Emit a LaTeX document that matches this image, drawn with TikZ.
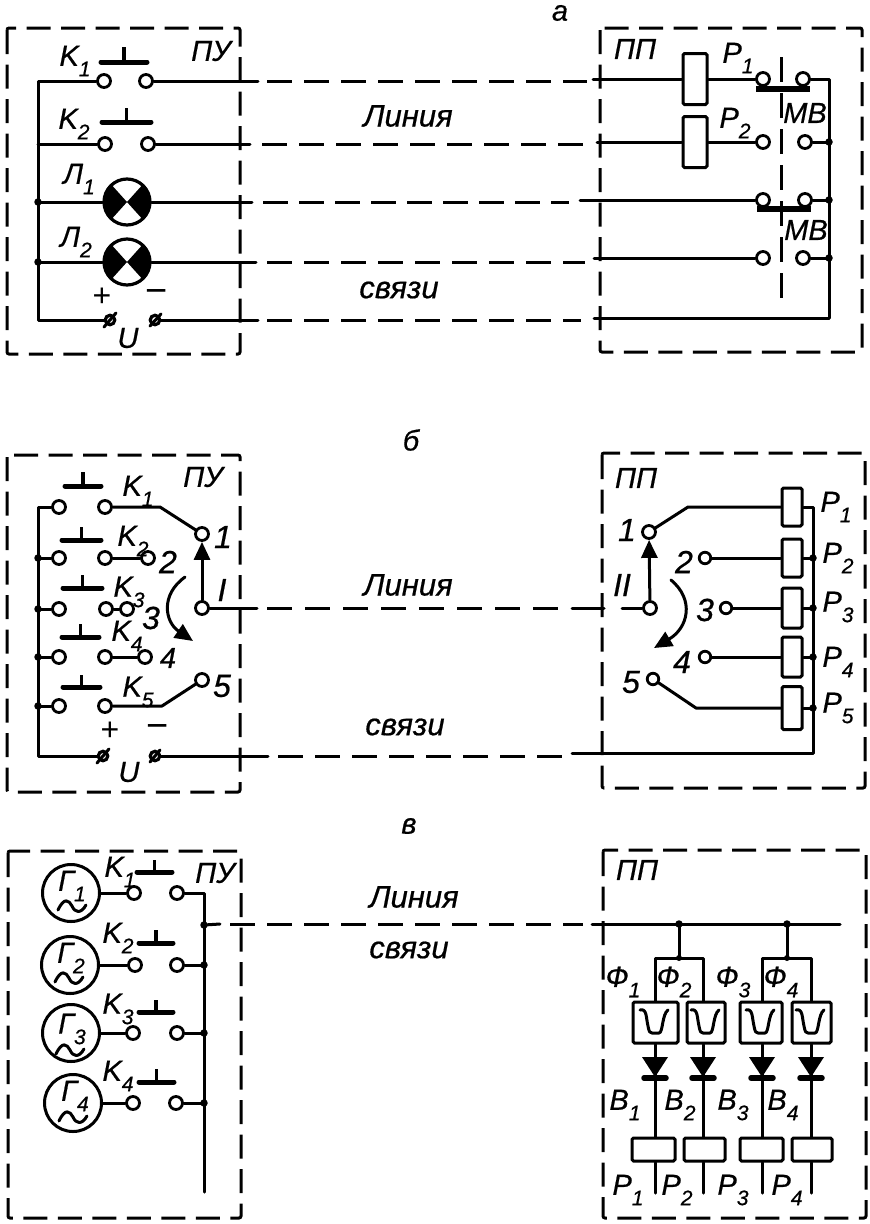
\documentclass[tikz,border=0pt]{standalone}
\usepackage{fontspec}
\setmainfont{Liberation Sans}[ItalicFeatures={FakeBold=0.6}]
\usetikzlibrary{arrows.meta,calc}
\newcommand\subt[1]{\raisebox{-.36em}{\fontsize{21}{21}\selectfont #1}}
\tikzset{
 wire/.style={line width=3pt,line cap=round,line join=round},
 dline/.style={wire,line cap=butt,dash pattern=on 25pt off 12pt},
 frame/.style={line width=3pt,dash pattern=on 24pt off 10.5pt,rounded corners=2pt},
 cont/.style={circle,draw,fill=white,line width=2.8pt,minimum size=13pt,inner sep=0pt},
 term/.style={circle,draw,line width=3.2pt,minimum size=9.5pt,inner sep=0pt},
 lampn/.style={circle,draw,fill=white,line width=3.2pt,minimum size=46pt,inner sep=0pt},
 gen/.style={circle,draw,line width=3pt,minimum size=57pt,inner sep=0pt},
 relay/.style={rectangle,draw,fill=white,line width=3pt,rounded corners=1.5pt,inner sep=0pt},
 lbl/.style={inner sep=0pt,font=\fontsize{29}{29}\selectfont\itshape},
 num/.style={inner sep=0pt,font=\fontsize{32}{32}\selectfont\itshape},
 word/.style={inner sep=0pt,font=\fontsize{31}{31}\selectfont\itshape},
 sgnp/.style={inner sep=0pt,font=\fontsize{32}{32}\selectfont},
 sgnm/.style={inner sep=0pt,font=\fontsize{38}{38}\selectfont},
 dotn/.style={circle,fill,minimum size=7.5pt,inner sep=0pt},
 head/.style={-{Triangle[length=18pt,width=16pt]}},
}
\newcommand\btn[4]{\draw[line width=5pt,line cap=round] (#1,#3)--(#2,#3);\draw[line width=3.8pt] ({(#1+#2)/2},#3)--({(#1+#2)/2},#4);}
\newcommand\ufilt[2]{\draw[wire] (#1-15,#2-12) .. controls (#1-8,#2-14) and (#1-9,#2-4) .. (#1-7,#2+4) .. controls (#1-6,#2+10) and (#1-5,#2+11) .. (#1-3,#2+11) -- (#1+4,#2+11) .. controls (#1+8,#2+11) and (#1+7,#2-8) .. (#1+13,#2-12);}
\newcommand\diode[1]{\fill (#1-13,1057)--(#1+13,1057)--(#1,1077)--cycle;\draw[line width=5.5pt,line cap=round] (#1-11,1078)--(#1+11,1078);}
\newcommand\gtil[2]{\draw[wire] (#1-14,#2+4) .. controls (#1-8,#2-9) and (#1-3,#2-6) .. (#1,#2) .. controls (#1+3,#2+7) and (#1+9,#2+8) .. (#1+14,#2-1);}
\newcommand\lampw[1]{\fill (#1.center) -- ++(48:23) arc[start angle=48,end angle=-48,radius=23] -- cycle;\fill (#1.center) -- ++(132:23) arc[start angle=132,end angle=228,radius=23] -- cycle;}
\begin{document}
\begin{tikzpicture}[x=1pt,y=-1pt]
\useasboundingbox (0,0) rectangle (870,1224);
% ---------- frames
\draw[frame] (7,28) rectangle (240,354);
\draw[frame] (600,28) rectangle (862,352);
\draw[frame] (7,455) rectangle (240,792);
\draw[frame] (602,453) rectangle (865,788);
\draw[frame] (8,851) rectangle (241,1218);
\draw[frame] (603,850) rectangle (866,1218);
% ---------- titles and line labels
\node[lbl] (ta) at (560,13) {а};
\node[lbl] (tb) at (411,440) {б};
\node[lbl] (tc) at (409,826) {в};
\node[word] (w1) at (408,116) {Линия};
\node[word] (w2) at (399,290) {связи};
\node[word] (w3) at (408,585) {Линия};
\node[word] (w4) at (405,727) {связи};
\node[word] (w5) at (414,897) {Линия};
\node[word] (w6) at (409,950) {связи};
% ========== part a, control side
\coordinate (ab1) at (38,81); \coordinate (ab2) at (38,144); \coordinate (ab3) at (38,202);
\coordinate (ab4) at (38,262); \coordinate (ab5) at (38,320);
\node[cont] (ak1l) at (104,81) {};
\node[cont] (ak1r) at (146,81) {};
\node[cont] (ak2l) at (105,144) {};
\node[cont] (ak2r) at (148,144) {};
\node[lampn] (al1) at (127,202) {};
\node[lampn] (al2) at (127,262) {};
\lampw{al1} \lampw{al2}
\node[term] (aup) at (110,320) {};
\node[term] (aum) at (155,320) {};
\draw[wire] (104,327)--(116,313); \draw[wire] (150,326)--(161,314);
\btn{101}{147}{62}{47} \btn{102}{151}{122}{108}
\draw[wire] (ak1l) -- (ab1) -- (ab5) -- (aup);
\draw[wire] (ak2l) -- (ab2);
\draw[wire] (ab3) -- (al1);
\draw[wire] (ab4) -- (al2);
\node[dotn] (ad3) at (ab3) {}; \node[dotn] (ad4) at (ab4) {};
\node[lbl] (lk1) at (75,61) {K\subt{1}};
\node[lbl] (lk2) at (74,124) {K\subt{2}};
\node[lbl] (ll1) at (79,179) {Л\subt{1}};
\node[lbl] (ll2) at (76,242) {Л\subt{2}};
\node[lbl] (lpu1) at (211,51) {ПУ};
\node[lbl] (lu1) at (128,338) {U};
\node[sgnp] (lp1) at (102,297) {+};
\node[sgnm] (lm1) at (157,296) {−};
% part a, receiving side
\node[lbl] (lpp1) at (635,49) {ПП};
\node[relay,minimum width=24pt,minimum height=51pt] (ar1) at (695,79) {};
\node[relay,minimum width=24pt,minimum height=51pt] (ar2) at (695,142) {};
\node[cont] (am1l) at (763,79) {};
\node[cont] (am1r) at (803,79) {};
\node[cont] (am2l) at (763,142) {};
\node[cont] (am2r) at (805,142) {};
\node[cont] (am3l) at (763,200) {};
\node[cont] (am3r) at (805,200) {};
\node[cont] (am4l) at (763,258) {};
\node[cont] (am4r) at (803,258) {};
\coordinate (mvt) at (781,57); \coordinate (mvb) at (781,305);
\draw[line width=3pt,dash pattern=on 25pt off 11pt] (mvt) -- (mvb);
\draw[line width=5.5pt] (756,89)--(810,89);
\draw[line width=5.5pt] (757,209)--(811,209);
\coordinate (abr1) at (829,79); \coordinate (abr2) at (829,142); \coordinate (abr3) at (829,200);
\coordinate (abr4) at (829,258); \coordinate (abr5) at (829,318);
\draw[wire] (am1r) -- (abr1) -- (abr5);
\draw[wire] (am2r) -- (abr2); \draw[wire] (am3r) -- (abr3); \draw[wire] (am4r) -- (abr4);
\node[dotn] (adr2) at (abr2) {}; \node[dotn] (adr3) at (abr3) {}; \node[dotn] (adr4) at (abr4) {};
\draw[wire] (ar1) -- (am1l); \draw[wire] (ar2) -- (am2l);
\node[lbl] (lr1) at (738,58) {P\subt{1}};
\node[lbl] (lr2) at (735,123) {P\subt{2}};
\node[lbl] (lmb1) at (805,113) {МВ};
\node[lbl] (lmb2) at (806,230) {МВ};
% part a, line
\coordinate (a1s) at (258,81); \coordinate (a1a) at (267,81); \coordinate (a2a) at (587,81); \coordinate (a3a) at (593,79);
\coordinate (a1r) at (250,144); \coordinate (a1b) at (262,144); \coordinate (a2b) at (585,144); \coordinate (a3b) at (597,142);
\coordinate (a1t) at (252,202); \coordinate (a1c) at (263,202); \coordinate (a2c) at (569,202); \coordinate (a3c) at (580,200);
\coordinate (a1u) at (256,262); \coordinate (a1d) at (267,262); \coordinate (a2d) at (585,262); \coordinate (a3d) at (594,258);
\coordinate (a1v) at (258,320); \coordinate (a1e) at (267,320); \coordinate (a2e) at (581,320); \coordinate (a3e) at (594,318);
\draw[wire] (ak1r) -- (a1s); \draw[dline] (a1a) -- (a2a); \draw[wire] (a3a) -- (ar1);
\draw[wire] (ak2r) -- (a1r); \draw[dline] (a1b) -- (a2b); \draw[wire] (a3b) -- (ar2);
\draw[wire] (al1) -- (a1t); \draw[dline,dash pattern=on 25pt off 11pt] (a1c) -- (a2c); \draw[wire] (a3c) -- (am3l);
\draw[wire] (al2) -- (a1u); \draw[dline] (a1d) -- (a2d); \draw[wire] (a3d) -- (am4l);
\draw[wire] (aum) -- (a1v); \draw[dline] (a1e) -- (a2e); \draw[wire] (a3e) -- (abr5);
% ========== part b, control side
\coordinate (bb1) at (38,507); \coordinate (bb2) at (38,558); \coordinate (bb3) at (38,609);
\coordinate (bb4) at (38,657); \coordinate (bb5) at (38,706); \coordinate (bb6) at (38,756);
\node[cont] (bk1l) at (59,507) {};
\node[cont] (bk1r) at (105,507) {};
\node[cont] (bk2l) at (59,558) {};
\node[cont] (bk2r) at (105,558) {};
\node[cont] (bk3l) at (59,609) {};
\node[cont] (bk3r) at (106,609) {};
\node[cont] (bk4l) at (59,657) {};
\node[cont] (bk4r) at (105,657) {};
\node[cont] (bk5l) at (59,706) {};
\node[cont] (bk5r) at (105,706) {};
\node[cont] (bs1) at (202,534) {};
\node[cont] (bs2) at (148,558) {};
\node[cont] (bs3) at (127,609) {};
\node[cont] (bs4) at (145,657) {};
\node[cont] (bs5) at (202,680) {};
\node[cont] (bsi) at (202,608) {};
\btn{65}{101}{486}{472} \btn{62}{101}{540}{527} \btn{63}{102}{588}{575} \btn{62}{99}{637}{624} \btn{63}{100}{687}{675}
\node[term] (bup) at (103,756) {};
\node[term] (bum) at (155,756) {};
\draw[wire] (bk1l) -- (bb1) -- (bb6) -- (bup);
\draw[wire] (bk2l) -- (bb2); \draw[wire] (bk3l) -- (bb3); \draw[wire] (bk4l) -- (bb4); \draw[wire] (bk5l) -- (bb5);
\node[dotn] (bd3) at (bb3) {}; \node[dotn] (bd4) at (bb4) {}; \node[dotn] (bd5) at (bb5) {}; \node[dotn] (bd2) at (bb2) {};
\coordinate (be1) at (160,507); \coordinate (be5) at (162,706);
\draw[wire] (bk1r) -- (be1) -- (bs1);
\draw[wire] (bk2r) -- (bs2);
\draw[wire] (bk3r) -- (bs3);
\draw[wire] (bk4r) -- (bs4);
\draw[wire] (bk5r) -- (be5) -- (bs5);
\draw[wire,head] (bsi) -- (bs1);
\coordinate (bca) at (185,577); \coordinate (bcb) at (193,641);
\draw[wire,head] (bca) .. controls (160,595) and (165,622) .. (bcb);
\draw[wire] (97,763)--(109,749); \draw[wire] (150,762)--(160,750);
\node[lbl] (lb1) at (138,491) {K\subt{1}};
\node[lbl] (lb2) at (133,541) {K\subt{2}};
\node[lbl] (lb3) at (129,592) {K\subt{3}};
\node[lbl] (lb4) at (127,636) {K\subt{4}};
\node[lbl] (lb5) at (138,692) {K\subt{5}};
\node[lbl] (lpu2) at (203,477) {ПУ};
\node[num] (n1) at (223,537) {1};
\node[num] (n2) at (168,562) {2};
\node[num] (n3) at (151,618) {3};
\node[lbl] (n4) at (168,658) {4};
\node[num] (n5) at (222,686) {5};
\node[num] (ni) at (222,590) {I};
\node[lbl] (lu2) at (129,772) {U};
\node[sgnp] (lp2) at (110,731) {+};
\node[sgnm] (lm2) at (158,731) {−};
% part b, receiving side
\node[lbl] (lpp2) at (636,478) {ПП};
\node[relay,minimum width=20pt,minimum height=38pt] (br1) at (792,507) {};
\node[relay,minimum width=20pt,minimum height=38pt] (br2) at (792,558) {};
\node[relay,minimum width=20pt,minimum height=40pt] (br3) at (792,608) {};
\node[relay,minimum width=20pt,minimum height=40pt] (br4) at (792,657) {};
\node[relay,minimum width=20pt,minimum height=43pt] (br5) at (792,708) {};
\node[cont] (bt1) at (649,532) {};
\node[cont,minimum size=11.5pt] (bt2) at (705,558) {};
\node[cont,minimum size=11.5pt] (bt3) at (726,608) {};
\node[cont,minimum size=11.5pt] (bt4) at (705,657) {};
\node[cont,minimum size=11.5pt] (bt5) at (653,679) {};
\node[cont] (bti) at (650,608) {};
\coordinate (bf1) at (688,507); \coordinate (bf5) at (696,708);
\draw[wire] (bt1) -- (bf1) -- (br1);
\draw[wire] (bt2) -- (br2); \draw[wire] (bt3) -- (br3); \draw[wire] (bt4) -- (br4);
\draw[wire] (bt5) -- (bf5) -- (br5);
\draw[wire,head] (bti) -- (bt1);
\coordinate (bga) at (671,580); \coordinate (bgb) at (654,648);
\draw[wire,head] (bga) .. controls (695,600) and (688,628) .. (bgb);
\coordinate (bq1) at (813,507); \coordinate (bq2) at (813,558); \coordinate (bq3) at (813,608);
\coordinate (bq4) at (813,657); \coordinate (bq5) at (813,708); \coordinate (bq6) at (813,753);
\draw[wire] (br1) -- (bq1) -- (bq6);
\draw[wire] (br2) -- (bq2); \draw[wire] (br3) -- (bq3); \draw[wire] (br4) -- (bq4); \draw[wire] (br5) -- (bq5);
\node[dotn] (bqd2) at (bq2) {}; \node[dotn] (bqd3) at (bq3) {}; \node[dotn] (bqd4) at (bq4) {}; \node[dotn] (bqd5) at (bq5) {};
\node[lbl] (lq1) at (836,507) {P\subt{1}};
\node[lbl] (lq2) at (838,558) {P\subt{2}};
\node[lbl] (lq3) at (838,607) {P\subt{3}};
\node[lbl] (lq4) at (838,662) {P\subt{4}};
\node[lbl] (lq5) at (838,708) {P\subt{5}};
\node[num] (m1) at (627,530) {1};
\node[num] (m2) at (684,562) {2};
\node[num] (m3) at (705,610) {3};
\node[num] (m4) at (682,662) {4};
\node[num] (m5) at (631,682) {5};
\node[num] (mii) at (622,585) {II};
% part b, line
\coordinate (b1s) at (257,608); \coordinate (b1a) at (267,608); \coordinate (b2a) at (558,608);
\coordinate (b3a) at (622,608); \coordinate (b4a) at (572,608); \coordinate (b5a) at (604,608);
\draw[wire] (bsi) -- (b1s); \draw[dline,dash pattern=on 25pt off 13pt] (b1a) -- (b2a); \draw[wire] (b4a) -- (b5a); \draw[wire] (b3a) -- (bti);
\coordinate (b0b) at (268,756); \coordinate (b1b) at (278,756); \coordinate (b2b) at (562,756); \coordinate (b3b) at (572,753);
\draw[wire] (bum) -- (b0b); \draw[dline] (b1b) -- (b2b); \draw[wire] (b3b) -- (bq6);
% ========== part c, control side
\node[gen] (cg1) at (71,893) {};
\node[gen] (cg2) at (70,965) {};
\node[gen] (cg3) at (71,1033) {};
\node[gen] (cg4) at (73,1103) {};
\node[cont] (ck1l) at (134,893) {};
\node[cont] (ck1r) at (177,893) {};
\node[cont] (ck2l) at (135,965) {};
\node[cont] (ck2r) at (177,965) {};
\node[cont] (ck3l) at (133,1033) {};
\node[cont] (ck3r) at (177,1033) {};
\node[cont] (ck4l) at (133,1103) {};
\node[cont] (ck4r) at (176,1103) {};
\draw[wire] (cg1) -- (ck1l); \draw[wire] (cg2) -- (ck2l); \draw[wire] (cg3) -- (ck3l); \draw[wire] (cg4) -- (ck4l);
\btn{137}{172}{872}{860} \btn{139}{173}{943}{930} \btn{139}{173}{1012}{1000} \btn{139}{174}{1082}{1069}
\coordinate (cb1) at (204,893); \coordinate (cb2) at (204,965); \coordinate (cb3) at (204,1033);
\coordinate (cb4) at (204,1103); \coordinate (cb5) at (204,1192); \coordinate (cbo) at (204,925);
\draw[wire] (ck1r) -- (cb1) -- (cb5);
\draw[wire] (ck2r) -- (cb2); \draw[wire] (ck3r) -- (cb3); \draw[wire] (ck4r) -- (cb4);
\node[dotn] (cd0) at (cbo) {}; \node[dotn] (cd2) at (cb2) {}; \node[dotn] (cd3) at (cb3) {}; \node[dotn] (cd4) at (cb4) {};
\node[lbl] (lg1) at (72,886) {Г\subt{1}};
\node[lbl] (lg2) at (71,958) {Г\subt{2}};
\node[lbl] (lg3) at (72,1029) {Г\subt{3}};
\node[lbl] (lg4) at (75,1096) {Г\subt{4}};
\gtil{72}{906} \gtil{69}{978} \gtil{70}{1050} \gtil{73}{1117}
\node[lbl] (lc1) at (120,872) {K\subt{1}};
\node[lbl] (lc2) at (118,938) {K\subt{2}};
\node[lbl] (lc3) at (118,1009) {K\subt{3}};
\node[lbl] (lc4) at (118,1076) {K\subt{4}};
\node[lbl] (lpu3) at (215,873) {ПУ};
% part c, receiving side
\node[lbl] (lpp3) at (637,870) {ПП};
\coordinate (cj1) at (679,924); \coordinate (cj2) at (787,924); \coordinate (cend) at (840,924);
\coordinate (ct1) at (679,958); \coordinate (ct2) at (787,958);
\coordinate (cw1) at (655,958); \coordinate (cw2) at (703,958); \coordinate (cw3) at (762,958); \coordinate (cw4) at (811,958);
\node[relay,minimum width=45pt,minimum height=41pt] (cf1) at (655.5,1022.5) {};
\node[relay,minimum width=38pt,minimum height=41pt] (cf2) at (706,1022.5) {};
\node[relay,minimum width=42pt,minimum height=41pt] (cf3) at (761,1022.5) {};
\node[relay,minimum width=39pt,minimum height=41pt] (cf4) at (811.5,1022.5) {};
\node[relay,minimum width=43pt,minimum height=23pt] (cr1) at (653.5,1149.5) {};
\node[relay,minimum width=41pt,minimum height=23pt] (cr2) at (704.5,1149.5) {};
\node[relay,minimum width=43pt,minimum height=23pt] (cr3) at (761.5,1149.5) {};
\node[relay,minimum width=40pt,minimum height=23pt] (cr4) at (812,1149.5) {};
\coordinate (ce1) at (655,1193); \coordinate (ce2) at (703,1193); \coordinate (ce3) at (762,1193); \coordinate (ce4) at (811,1193);
\draw[wire] (cj1) -- (ct1); \draw[wire] (cj2) -- (ct2);
\draw[wire] (cw1 |- cf1.north) -- (cw1) -- (cw2) -- (cw2 |- cf2.north);
\draw[wire] (cw3 |- cf3.north) -- (cw3) -- (cw4) -- (cw4 |- cf4.north);
\node[dotn] (cjd1) at (cj1) {}; \node[dotn] (cjd2) at (cj2) {};
\node[dotn,minimum size=6pt] (ctd1) at (ct1) {}; \node[dotn,minimum size=6pt] (ctd2) at (ct2) {};
\draw[wire] (cw1 |- cf1.south) -- (cw1 |- cr1.north);
\draw[wire] (cw2 |- cf2.south) -- (cw2 |- cr2.north);
\draw[wire] (cw3 |- cf3.south) -- (cw3 |- cr3.north);
\draw[wire] (cw4 |- cf4.south) -- (cw4 |- cr4.north);
\draw[wire] (cw1 |- cr1.south) -- (ce1);
\draw[wire] (cw2 |- cr2.south) -- (ce2);
\draw[wire] (cw3 |- cr3.south) -- (ce3);
\draw[wire] (cw4 |- cr4.south) -- (ce4);
\ufilt{655}{1022} \ufilt{706}{1022} \ufilt{761}{1022} \ufilt{811}{1022}
\diode{655} \diode{703} \diode{762} \diode{811}
\node[lbl] (lf1) at (623,982) {Ф\subt{1}};
\node[lbl] (lf2) at (674,982) {Ф\subt{2}};
\node[lbl] (lf3) at (733,982) {Ф\subt{3}};
\node[lbl] (lf4) at (781,982) {Ф\subt{4}};
\node[lbl] (lv1) at (625,1105) {В\subt{1}};
\node[lbl] (lv2) at (680,1105) {В\subt{2}};
\node[lbl] (lv3) at (733,1105) {В\subt{3}};
\node[lbl] (lv4) at (783,1105) {В\subt{4}};
\node[lbl] (ls1) at (628,1190) {P\subt{1}};
\node[lbl] (ls2) at (677,1190) {P\subt{2}};
\node[lbl] (ls3) at (733,1190) {P\subt{3}};
\node[lbl] (ls4) at (787,1190) {P\subt{4}};
% part c, line
\coordinate (c1) at (220,924); \coordinate (c2) at (230,924); \coordinate (c3) at (583,924); \coordinate (c4) at (592,924);
\draw[wire] (cbo) -- (c1); \draw[dline] (c2) -- (c3); \draw[wire] (c4) -- (cend);
\end{tikzpicture}
\end{document}
